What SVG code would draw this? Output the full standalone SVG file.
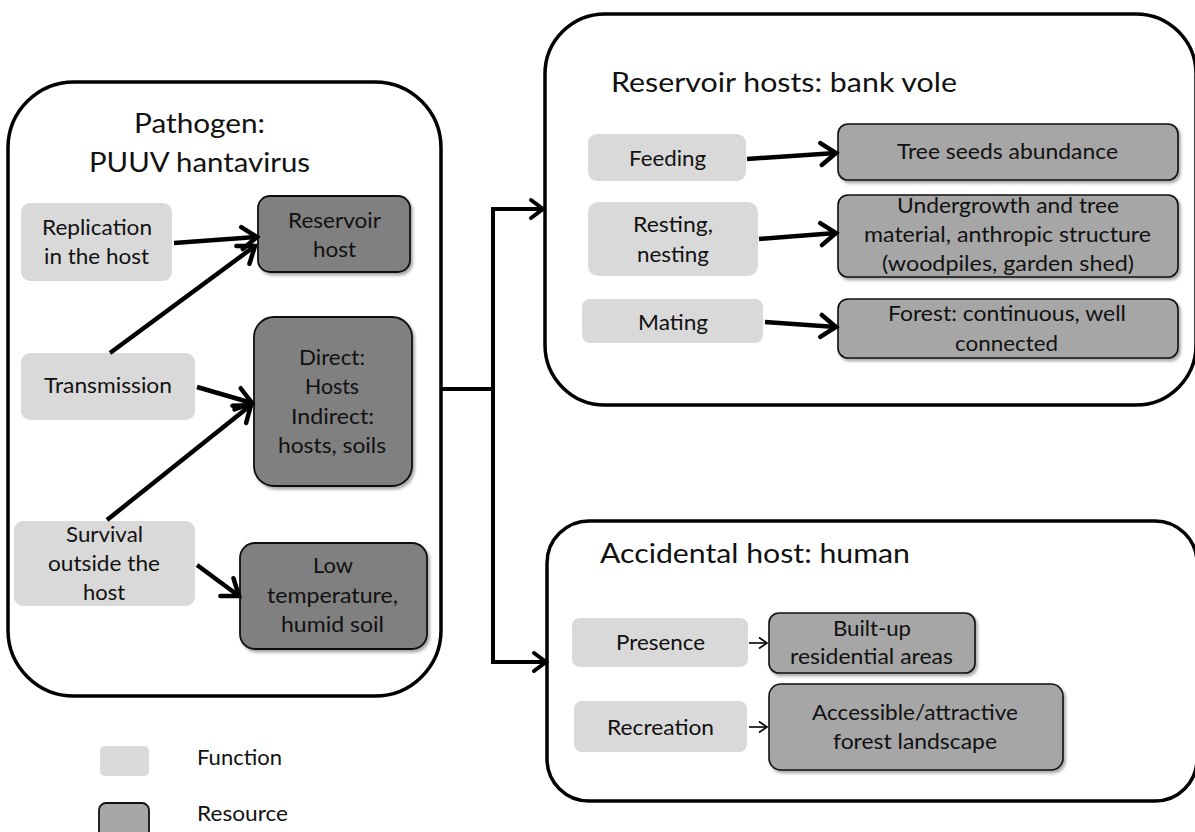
<svg xmlns="http://www.w3.org/2000/svg" width="1195" height="832" viewBox="0 0 1195 832">
<style>
text{font-family:Lato,"Open Sans","Liberation Sans",sans-serif;fill:#111;}
.t{font-size:22px;}
.h{font-size:27px;}
.box{fill:#fff;stroke:#000;stroke-width:3.5;}
.fn{fill:#d9d9d9;}
.rd{fill:#808080;stroke:#111;stroke-width:1.8;filter:url(#sh);}
.rl{fill:#a6a6a6;stroke:#111;stroke-width:1.6;filter:url(#sh);}
.thick{fill:none;stroke:#000;stroke-width:4.5;marker-end:url(#ah);}
.conn{fill:none;stroke:#000;stroke-width:4;stroke-linejoin:miter;marker-end:url(#ah2);}
.thin{fill:none;stroke:#000;stroke-width:1.6;marker-end:url(#at);}
</style>
<defs>
<filter id="sh" x="-10%" y="-10%" width="125%" height="130%">
<feDropShadow dx="2" dy="2.5" stdDeviation="1.5" flood-color="#000" flood-opacity="0.35"/>
</filter>
<marker id="ah" markerUnits="userSpaceOnUse" markerWidth="22" markerHeight="26" viewBox="0 0 22 26" refX="18" refY="13" orient="auto" overflow="visible">
<path d="M3,2 L18,13 L3,24" fill="none" stroke="#000" stroke-width="4.5" stroke-linecap="round" stroke-linejoin="miter"/>
</marker>
<marker id="ah2" markerUnits="userSpaceOnUse" markerWidth="20" markerHeight="24" viewBox="0 0 20 24" refX="16" refY="12" orient="auto" overflow="visible">
<path d="M4,3 L16,12 L4,21" fill="none" stroke="#000" stroke-width="4" stroke-linecap="round" stroke-linejoin="miter"/>
</marker>
<marker id="at" markerUnits="userSpaceOnUse" markerWidth="12" markerHeight="14" viewBox="0 0 12 14" refX="10" refY="7" orient="auto" overflow="visible">
<path d="M2,1.5 L10,7 L2,12.5" fill="none" stroke="#000" stroke-width="1.6"/>
</marker>
</defs>

<g id="pathogen">
<rect class="box" x="8" y="82" width="433" height="614" rx="66" ry="66"/>
<text class="h" x="134" y="133" textLength="131" lengthAdjust="spacingAndGlyphs">Pathogen:</text>
<text class="h" x="89" y="172" textLength="221" lengthAdjust="spacingAndGlyphs">PUUV hantavirus</text>
</g>
<g id="f-replication">
<rect class="fn" x="21" y="203" width="151" height="78" rx="9"/>
<text class="t" x="42" y="235" textLength="110" lengthAdjust="spacingAndGlyphs">Replication</text>
<text class="t" x="44" y="264" textLength="105" lengthAdjust="spacingAndGlyphs">in the host</text>
</g>
<g id="r-reservoir-host">
<rect class="rd" x="258" y="196" width="152" height="76" rx="12"/>
<text class="t" x="288" y="228" textLength="93" lengthAdjust="spacingAndGlyphs">Reservoir</text>
<text class="t" x="313" y="257" textLength="43" lengthAdjust="spacingAndGlyphs">host</text>
</g>
<g id="f-transmission">
<rect class="fn" x="21" y="353" width="174" height="67" rx="9"/>
<text class="t" x="44" y="393" textLength="128" lengthAdjust="spacingAndGlyphs">Transmission</text>
</g>
<g id="r-direct">
<rect class="rd" x="254" y="317" width="158" height="169" rx="20"/>
<text class="t" x="299" y="365" textLength="66" lengthAdjust="spacingAndGlyphs">Direct:</text>
<text class="t" x="305" y="394" textLength="54" lengthAdjust="spacingAndGlyphs">Hosts</text>
<text class="t" x="291" y="424" textLength="83" lengthAdjust="spacingAndGlyphs">Indirect:</text>
<text class="t" x="278" y="453" textLength="108" lengthAdjust="spacingAndGlyphs">hosts, soils</text>
</g>
<g id="f-survival">
<rect class="fn" x="14" y="521" width="181" height="85" rx="9"/>
<text class="t" x="66" y="542" textLength="77" lengthAdjust="spacingAndGlyphs">Survival</text>
<text class="t" x="48" y="571" textLength="112" lengthAdjust="spacingAndGlyphs">outside the</text>
<text class="t" x="83" y="600" textLength="42" lengthAdjust="spacingAndGlyphs">host</text>
</g>
<g id="r-lowtemp">
<rect class="rd" x="240" y="543" width="187" height="106" rx="15"/>
<text class="t" x="313" y="573" textLength="40" lengthAdjust="spacingAndGlyphs">Low</text>
<text class="t" x="267" y="603" textLength="131" lengthAdjust="spacingAndGlyphs">temperature,</text>
<text class="t" x="281" y="632" textLength="103" lengthAdjust="spacingAndGlyphs">humid soil</text>
</g>

<g id="reservoir">
<rect class="box" x="545" y="14" width="651" height="391" rx="60" ry="60"/>
<text class="h" x="611" y="92" textLength="346" lengthAdjust="spacingAndGlyphs">Reservoir hosts: bank vole</text>
</g>
<g id="f-feeding">
<rect class="fn" x="588" y="134" width="158" height="47" rx="9"/>
<text class="t" x="629" y="166" textLength="77" lengthAdjust="spacingAndGlyphs">Feeding</text>
</g>
<g id="r-treeseeds">
<rect class="rl" x="838" y="124" width="340" height="56" rx="10"/>
<text class="t" x="897" y="159" textLength="221" lengthAdjust="spacingAndGlyphs">Tree seeds abundance</text>
</g>
<g id="f-resting">
<rect class="fn" x="588" y="202" width="170" height="74" rx="10"/>
<text class="t" x="633" y="232" textLength="80" lengthAdjust="spacingAndGlyphs">Resting,</text>
<text class="t" x="637" y="262" textLength="72" lengthAdjust="spacingAndGlyphs">nesting</text>
</g>
<g id="r-undergrowth">
<rect class="rl" x="838" y="195" width="340" height="82" rx="10"/>
<text class="t" x="897" y="213" textLength="222" lengthAdjust="spacingAndGlyphs">Undergrowth and tree</text>
<text class="t" x="864" y="242" textLength="287" lengthAdjust="spacingAndGlyphs">material, anthropic structure</text>
<text class="t" x="882" y="271" textLength="252" lengthAdjust="spacingAndGlyphs">(woodpiles, garden shed)</text>
</g>
<g id="f-mating">
<rect class="fn" x="582" y="299" width="181" height="44" rx="8"/>
<text class="t" x="638" y="330" textLength="70" lengthAdjust="spacingAndGlyphs">Mating</text>
</g>
<g id="r-forest">
<rect class="rl" x="838" y="299" width="340" height="59" rx="10"/>
<text class="t" x="888" y="321" textLength="238" lengthAdjust="spacingAndGlyphs">Forest: continuous, well</text>
<text class="t" x="955" y="351" textLength="103" lengthAdjust="spacingAndGlyphs">connected</text>
</g>

<g id="accidental">
<rect class="box" x="547" y="521" width="650" height="280" rx="42" ry="42"/>
<text class="h" x="600" y="563" textLength="310" lengthAdjust="spacingAndGlyphs">Accidental host: human</text>
</g>
<g id="f-presence">
<rect class="fn" x="572" y="618" width="176" height="49" rx="8"/>
<text class="t" x="616" y="650" textLength="89" lengthAdjust="spacingAndGlyphs">Presence</text>
</g>
<g id="r-builtup">
<rect class="rl" x="769" y="613" width="206" height="60" rx="10"/>
<text class="t" x="833" y="636" textLength="78" lengthAdjust="spacingAndGlyphs">Built-up</text>
<text class="t" x="790" y="664" textLength="163" lengthAdjust="spacingAndGlyphs">residential areas</text>
</g>
<g id="f-recreation">
<rect class="fn" x="574" y="701" width="173" height="51" rx="8"/>
<text class="t" x="607" y="735" textLength="107" lengthAdjust="spacingAndGlyphs">Recreation</text>
</g>
<g id="r-accessible">
<rect class="rl" x="769" y="684" width="294" height="86" rx="12"/>
<text class="t" x="812" y="720" textLength="206" lengthAdjust="spacingAndGlyphs">Accessible/attractive</text>
<text class="t" x="833" y="749" textLength="164" lengthAdjust="spacingAndGlyphs">forest landscape</text>
</g>

<g id="legend">
<rect class="fn" x="100" y="746" width="49" height="30" rx="5"/>
<text class="t" x="197" y="765" textLength="85" lengthAdjust="spacingAndGlyphs">Function</text>
<rect x="99" y="803" width="50" height="40" rx="7" fill="#a6a6a6" stroke="#111" stroke-width="1.8"/>
<text class="t" x="197" y="821" textLength="91" lengthAdjust="spacingAndGlyphs">Resource</text>
</g>

<g id="connectors">
<path class="thick" d="M174,243 L257,237"/>
<path class="thick" d="M110,353 L255,246"/>
<path class="thick" d="M197,387 L252,403"/>
<path class="thick" d="M107,520 L251,405"/>
<path class="thick" d="M197,565 L239,596"/>
<path class="conn" d="M441,389 H493 V209 H543"/>
<path class="conn" d="M493,387 V662 H546"/>
<path class="thick" d="M747,159 L836,153"/>
<path class="thick" d="M759,239 L836,233"/>
<path class="thick" d="M765,322 L836,327"/>
<path class="thin" d="M749,643 L767,643"/>
<path class="thin" d="M749,727 L767,727"/>
</g>
</svg>
